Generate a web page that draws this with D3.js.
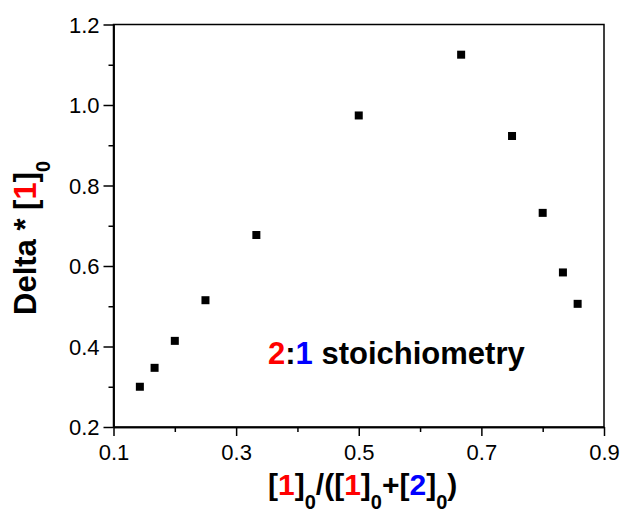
<!DOCTYPE html>
<html>
<head>
<meta charset="utf-8">
<script src="https://cdn.jsdelivr.net/npm/d3@7"></script>
<style>
  body { margin: 0; background: #fff; }
  svg { display: block; }
</style>
</head>
<body>
<div id="chart"></div>
<script>
// data
const ratio = [0.143, 0.167, 0.200, 0.250, 0.333, 0.500, 0.667, 0.750, 0.800, 0.833, 0.857];
const delta = [0.300, 0.347, 0.414, 0.515, 0.677, 0.974, 1.125, 0.923, 0.732, 0.584, 0.506];
const xMajor = [0.1, 0.3, 0.5, 0.7, 0.9];
const xMinor = [0.2, 0.4, 0.6, 0.8];
const yMajor = [0.2, 0.4, 0.6, 0.8, 1.0, 1.2];
const yMinor = [0.3, 0.5, 0.7, 0.9, 1.1];

const width = 632;
const height = 514;
const margin = {top: 24.5, right: 28, bottom: 87, left: 113.5};
const innerWidth = width - margin.left - margin.right;
const innerHeight = height - margin.top - margin.bottom;

const fontFamily = '"Liberation Sans", Arial, Helvetica, sans-serif';
const red = '#ff0000';
const blue = '#0000ff';

const xScale = d3.scaleLinear().domain([0.1, 0.9]).range([0, innerWidth]);
const yScale = d3.scaleLinear().domain([0.2, 1.2]).range([innerHeight, 0]);

const svg = d3.select('#chart').append('svg')
    .attr('width', width)
    .attr('height', height);

const g = svg.append('g')
    .attr('transform', `translate(${margin.left},${margin.top})`);

// frame (top and right)
g.append('rect')
    .attr('x', 0).attr('y', 0)
    .attr('width', innerWidth).attr('height', innerHeight)
    .attr('fill', 'none')
    .attr('stroke', '#000')
    .attr('stroke-width', 1.5);

const styleAxis = sel => {
    sel.select('.domain').attr('stroke-width', 1.5);
    sel.selectAll('.tick line').attr('stroke-width', 1.5);
    sel.selectAll('.tick text')
        .style('font-family', fontFamily)
        .style('font-size', '22px')
        .attr('fill', '#000');
};

// minor ticks, no labels
g.append('g')
    .attr('transform', `translate(0,${innerHeight})`)
    .call(d3.axisBottom(xScale).tickValues(xMinor).tickSize(5).tickSizeOuter(0))
    .call(styleAxis)
    .call(a => a.selectAll('.tick text').remove());
g.append('g')
    .call(d3.axisLeft(yScale).tickValues(yMinor).tickSize(5).tickSizeOuter(0))
    .call(styleAxis)
    .call(a => a.selectAll('.tick text').remove());

g.append('g')
    .attr('transform', `translate(0,${innerHeight})`)
    .call(d3.axisBottom(xScale).tickValues(xMajor).tickSize(9).tickSizeOuter(0).tickFormat(d3.format('.1f')))
    .call(styleAxis)
    .call(a => a.selectAll('.tick text').attr('y', 17).attr('dy', '0.71em'));

g.append('g')
    .call(d3.axisLeft(yScale).tickValues(yMajor).tickSize(10).tickSizeOuter(0).tickFormat(d3.format('.1f')))
    .call(styleAxis)
    .call(a => a.selectAll('.tick text').attr('x', -14).attr('dy', '0.36em'));

// points
const sq = 8;
g.selectAll('rect.pt')
    .data(ratio.map((r, i) => ({x: r, y: delta[i]})))
    .join('rect')
    .attr('class', 'pt')
    .attr('x', d => xScale(d.x) - sq / 2)
    .attr('y', d => yScale(d.y) - sq / 2)
    .attr('width', sq)
    .attr('height', sq)
    .attr('fill', '#000');

// mixed-colour labels with low subscripts
const subShift = 14;
const addParts = (text, parts) => {
    let down = false;
    parts.forEach(p => {
        const t = text.append('tspan').text(p.t).attr('fill', p.c || '#000');
        if (p.sub) {
            t.style('font-size', '20px').attr('dy', subShift);
            down = true;
        } else if (down) {
            t.attr('dy', -subShift);
            down = false;
        }
    });
};

// x title
const xTitle = svg.append('text')
    .attr('x', 268)
    .attr('y', 495)
    .style('font-family', fontFamily)
    .style('font-size', '30px')
    .style('font-weight', 'bold');
addParts(xTitle, [
    {t: '['}, {t: '1', c: red}, {t: ']'}, {t: '0', sub: true},
    {t: '/(['}, {t: '1', c: red}, {t: ']'}, {t: '0', sub: true},
    {t: '+['}, {t: '2', c: blue}, {t: ']'}, {t: '0', sub: true},
    {t: ')'}
]);

// y title
const yTitle = svg.append('text')
    .attr('transform', 'translate(36,315) rotate(-90)')
    .style('font-family', fontFamily)
    .style('font-size', '31px')
    .style('font-weight', 'bold');
addParts(yTitle, [
    {t: 'Delta * ['}, {t: '1', c: red}, {t: ']'}, {t: '0', sub: true}
]);

// annotation
const note = svg.append('text')
    .attr('x', 268)
    .attr('y', 364)
    .style('font-family', fontFamily)
    .style('font-size', '31px')
    .style('font-weight', 'bold');
addParts(note, [
    {t: '2', c: red}, {t: ':'}, {t: '1', c: blue}, {t: ' stoichiometry'}
]);
</script>
</body>
</html>
